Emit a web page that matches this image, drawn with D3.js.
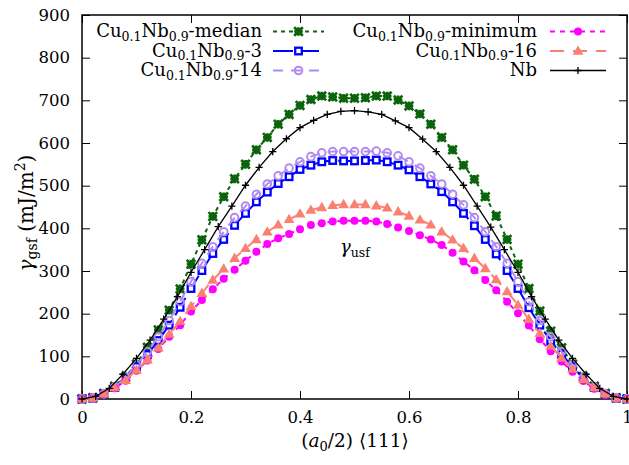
<!DOCTYPE html>
<html><head><meta charset="utf-8">
<script src="https://cdn.jsdelivr.net/npm/d3@7"></script>
<style>
html,body{margin:0;padding:0;background:#fff;}
svg{display:block;}
</style></head>
<body><svg id="c" width="629" height="465"></svg>
<script>
// ---- data ----
const xCu = [0,0.02,0.04,0.06,0.08,0.10,0.12,0.14,0.16,0.18,0.20,0.22,0.24,0.26,0.28,0.30,0.32,0.34,0.36,0.38,0.40,0.42,0.44,0.46,0.48,0.50,0.52,0.54,0.56,0.58,0.60,0.62,0.64,0.66,0.68,0.70,0.72,0.74,0.76,0.78,0.80,0.82,0.84,0.86,0.88,0.90,0.92,0.94,0.96,0.98,1.00];
const xNb = [0,0.025,0.05,0.075,0.1,0.125,0.15,0.175,0.2,0.225,0.25,0.275,0.3,0.325,0.35,0.375,0.4,0.425,0.45,0.475,0.5,0.525,0.55,0.575,0.6,0.625,0.65,0.675,0.7,0.725,0.75,0.775,0.8,0.825,0.85,0.875,0.9,0.925,0.95,0.975,1];
const median = [0,3,13,30,52,82,121,162,208,258,316,373,428,474,516,550,584,613,644,667,688,702,710,708,705,705,706,710,710,701,687,668,644,613,584,548,515,474,429,374,316,259,206,159,120,82,52,30,13,3,0];
const s3 = [0,2,12,27,48,76,104,137,173,215,259,301,341,374,407,435,462,485,505,521,538,548,556,559,558,558,559,560,556,548,537,521,504,486,462,435,406,374,340,301,259,214,173,136,105,76,48,27,12,2,0];
const s14 = [0,2,12,28,50,80,111,146,184,228,275,318,357,392,425,452,480,504,523,541,556,568,577,580,580,580,580,581,577,570,556,541,523,504,480,455,425,392,357,318,275,228,184,146,111,80,50,28,12,2,0];
const minimum = [0,2,11,25,43,66,90,117,146,173,205,232,257,282,303,324,345,363,377,387,398,408,412,416,418,418,418,416,410,402,394,384,374,361,343,322,302,279,255,228,201,172,140,112,88,64,42,24,10,2,0];
const s16 = [0,2,12,27,44,68,92,120,152,182,217,248,279,305,330,353,374,392,408,421,434,443,449,454,456,456,456,453,448,439,429,420,408,392,373,353,330,306,280,252,220,187,154,124,96,70,46,27,12,2,0];
const nb = [0,6,25,58,95,138,187,240,297,350,404,452,501,543,580,610,636,653,667,674,676,673,667,652,636,609,580,543,501,452,403,350,297,240,187,138,95,58,25,6,0];
const xTicks = [0,0.2,0.4,0.6,0.8,1];
const xTickLabels = ["0","0.2","0.4","0.6","0.8","1"];
const yTicks = [0,100,200,300,400,500,600,700,800,900];

const series = [
  {suffix:"-median", xs:xCu, ys:median, color:"#0b640b", dash:"4,4", width:2, marker:"star", col:0, row:0},
  {suffix:"-3", xs:xCu, ys:s3, color:"#0000ff", dash:"20,6", width:2, marker:"square", col:0, row:1},
  {suffix:"-14", xs:xCu, ys:s14, color:"#b08cf0", dash:"10,8", width:2, marker:"circle", col:0, row:2},
  {suffix:"-minimum", xs:xCu, ys:minimum, color:"#ff00ff", dash:"5,5", width:2, marker:"dot", col:1, row:0},
  {suffix:"-16", xs:xCu, ys:s16, color:"#fa8072", dash:"14,9", width:2, marker:"tri", col:1, row:1},
  {label:"Nb", xs:xNb, ys:nb, color:"#000000", dash:null, width:1.3, marker:"plus", col:1, row:2}
];

const FONT = "'DejaVu Serif', 'Liberation Serif', 'Noto Serif', serif";
const TFS = 16.5, LFS = 18, SFS = 12.5;

// ---- layout ----
const svg = d3.select("#c");
const L=82, R=627, T=15, B=399;
const x = d3.scaleLinear().domain([0,1]).range([L,R]);
const y = d3.scaleLinear().domain([0,900]).range([B,T]);

function drawMarker(g, type, color){
  if(type==="star"){
    const r=4.3;
    g.append("path").attr("d",`M${-r},0L${r},0M0,${-r}L0,${r}M${-r},${-r}L${r},${r}M${-r},${r}L${r},${-r}`)
      .attr("stroke",color).attr("stroke-width",2.7).attr("fill","none");
  } else if(type==="square"){
    g.append("rect").attr("x",-3.3).attr("y",-3.3).attr("width",6.6).attr("height",6.6)
      .attr("stroke",color).attr("stroke-width",2.3).attr("fill","#fff");
  } else if(type==="circle"){
    g.append("circle").attr("r",3.8).attr("stroke",color).attr("stroke-width",2).attr("fill","none");
  } else if(type==="dot"){
    g.append("circle").attr("r",4).attr("fill",color);
  } else if(type==="tri"){
    g.append("path").attr("d","M0,-5.6L5.4,3.7L-5.4,3.7Z").attr("fill",color);
  } else if(type==="plus"){
    const r=3.6;
    g.append("path").attr("d",`M${-r},0L${r},0M0,${-r}L0,${r}`).attr("stroke",color).attr("stroke-width",1.3);
  }
}

// frame & axes
const gx = svg.append("g").attr("transform",`translate(0,${B})`)
  .call(d3.axisBottom(x).tickValues(xTicks).tickFormat((d,i)=>xTickLabels[i]).tickSize(-8).tickSizeOuter(0).tickPadding(12));
const gxt = svg.append("g").attr("transform",`translate(0,${T})`)
  .call(d3.axisTop(x).tickValues(xTicks).tickFormat("").tickSize(-8).tickSizeOuter(0));
const gy = svg.append("g").attr("transform",`translate(${L},0)`)
  .call(d3.axisLeft(y).tickValues(yTicks).tickSize(-8).tickSizeOuter(0).tickPadding(12));
const gyr = svg.append("g").attr("transform",`translate(${R},0)`)
  .call(d3.axisRight(y).tickValues(yTicks).tickFormat("").tickSize(-8).tickSizeOuter(0));
[gx,gxt,gy,gyr].forEach(g=>{
  g.attr("font-family",FONT).attr("font-size",TFS);
  g.select(".domain").remove();
  g.selectAll(".tick line").attr("stroke","#000").attr("stroke-width",1);
  g.selectAll("text").attr("fill","#000");
});
svg.append("rect").attr("x",L).attr("y",T).attr("width",R-L).attr("height",B-T)
  .attr("fill","none").attr("stroke","#000").attr("stroke-width",1.5);

// series
const plot = svg.append("g");
series.forEach(s=>{
  const pts = s.xs.map((xv,i)=>[xv,s.ys[i]]);
  const line = d3.line().x(d=>x(d[0])).y(d=>y(d[1]));
  const p = plot.append("path").attr("d",line(pts)).attr("fill","none")
    .attr("stroke",s.color).attr("stroke-width",s.width);
  if(s.dash) p.attr("stroke-dasharray",s.dash);
  const mg = plot.append("g");
  pts.forEach(d=>{
    const g = mg.append("g").attr("transform",`translate(${x(d[0])},${y(d[1])})`);
    drawMarker(g,s.marker,s.color);
  });
});

// legend
const leg = svg.append("g").attr("font-family",FONT).attr("font-size",LFS);
const colText=[262,537], colL1=[273,550], colL2=[324,606];
const rowBase=[37,56.5,76];
series.forEach(s=>{
  const tx = colText[s.col], by = rowBase[s.row];
  const t = leg.append("text").attr("x",tx).attr("y",by).attr("text-anchor","end");
  if(s.label){ t.text(s.label); }
  else {
    t.append("tspan").text("Cu");
    t.append("tspan").text("0.1").attr("font-size",SFS).attr("dy",3.5);
    t.append("tspan").text("Nb").attr("dy",-3.5);
    t.append("tspan").text("0.9").attr("font-size",SFS).attr("dy",3.5);
    t.append("tspan").text(s.suffix).attr("dy",-3.5);
  }
  const ly = by-5.5;
  const ln = leg.append("line").attr("x1",colL1[s.col]).attr("x2",colL2[s.col]).attr("y1",ly).attr("y2",ly)
    .attr("stroke",s.color).attr("stroke-width",s.width);
  if(s.dash) ln.attr("stroke-dasharray",s.dash);
  const g = leg.append("g").attr("transform",`translate(${(colL1[s.col]+colL2[s.col])/2},${ly})`);
  drawMarker(g,s.marker,s.color);
});

// annotation
const ann = svg.append("text").attr("x",340).attr("y",253).attr("font-family",FONT).attr("font-size",LFS);
ann.append("tspan").text("γ").attr("font-style","italic");
ann.append("tspan").text("usf").attr("font-size",SFS).attr("dy",4);

// axis labels
const yl = svg.append("text").attr("transform","translate(33,213) rotate(-90)").attr("text-anchor","middle")
  .attr("font-family",FONT).attr("font-size",20);
yl.append("tspan").text("γ").attr("font-style","italic");
yl.append("tspan").text("gsf").attr("font-size",14).attr("dy",4);
yl.append("tspan").text(" (mJ/m").attr("dy",-4);
yl.append("tspan").text("2").attr("font-size",14).attr("dy",-8);
yl.append("tspan").text(")").attr("dy",8);

const xl = svg.append("text").attr("x",355).attr("y",447).attr("text-anchor","middle")
  .attr("font-family",FONT).attr("font-size",18.5);
xl.append("tspan").text("(");
xl.append("tspan").text("a").attr("font-style","italic");
xl.append("tspan").text("0").attr("font-size",13).attr("dy",4);
xl.append("tspan").text("/2) \u27E8111\u27E9").attr("dy",-4);
</script></body></html>
